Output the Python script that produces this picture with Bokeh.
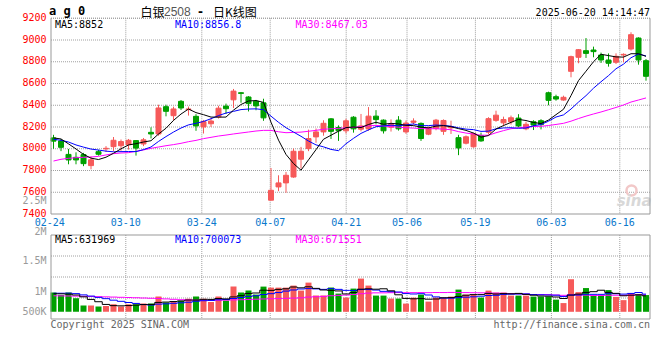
import numpy as np
from bokeh.plotting import figure
from bokeh.models import Range1d
from bokeh.core.properties import value
from bokeh.embed import file_html
from bokeh.resources import INLINE

# ------------------------------------------------------------------ data
dates = ["02-24", "02-25", "02-26", "02-27", "02-28",
         "03-03", "03-04", "03-05", "03-06", "03-07", "03-10", "03-11", "03-12", "03-13", "03-14",
         "03-17", "03-18", "03-19", "03-20", "03-21", "03-24", "03-25", "03-26", "03-27", "03-28",
         "03-31", "04-01", "04-02", "04-03", "04-07", "04-08", "04-09", "04-10", "04-11",
         "04-14", "04-15", "04-16", "04-17", "04-18", "04-21", "04-22", "04-23", "04-24", "04-25",
         "04-28", "04-29", "04-30", "05-06", "05-07", "05-08", "05-09",
         "05-12", "05-13", "05-14", "05-15", "05-16", "05-19", "05-20", "05-21", "05-22", "05-23",
         "05-26", "05-27", "05-28", "05-29", "05-30", "06-03", "06-04", "06-05", "06-06",
         "06-09", "06-10", "06-11", "06-12", "06-13", "06-16", "06-17", "06-18", "06-19", "06-20"]

opens = [8100, 8072, 7948, 7921, 7946, 7845, 7973, 7999, 8019, 8028,
         8038, 8075, 8044, 8151, 8136, 8387, 8304, 8436, 8360, 8298,
         8200, 8230, 8293, 8392, 8450, 8515, 8476, 8437, 8422, 7527,
         7649, 7686, 7740, 7904, 8002, 8109, 8155, 8275, 8195, 8165,
         8290, 8180, 8182, 8300, 8263, 8198, 8263, 8155, 8243, 8233,
         8134, 8186, 8160, 8192, 8102, 8051, 8018, 8122, 8152, 8261,
         8238, 8248, 8282, 8183, 8248, 8258, 8515, 8479, 8448, 8712,
         8841, 8902, 8908, 8862, 8816, 8795, 8862, 8917, 9018, 8810]
highs = [8128, 8090, 7998, 7967, 7962, 7929, 7990, 8024, 8108, 8085,
         8090, 8080, 8099, 8197, 8405, 8405, 8387, 8448, 8388, 8318,
         8265, 8282, 8395, 8415, 8550, 8522, 8484, 8449, 8460, 7823,
         7756, 7787, 8002, 8017, 8176, 8186, 8262, 8282, 8215, 8276,
         8300, 8320, 8383, 8355, 8270, 8270, 8300, 8260, 8280, 8242,
         8205, 8274, 8270, 8258, 8128, 8122, 8148, 8148, 8290, 8350,
         8295, 8305, 8318, 8248, 8262, 8272, 8525, 8497, 8488, 8856,
         8917, 9018, 8939, 8884, 8877, 8877, 8877, 9071, 9025, 8825]
lows = [8000, 7978, 7857, 7857, 7840, 7811, 7937, 7970, 7979, 7982,
        7992, 7937, 8024, 8095, 8120, 8298, 8258, 8356, 8305, 8165,
        8140, 8200, 8278, 8320, 8374, 8423, 8343, 8354, 8257, 7525,
        7610, 7595, 7733, 7818, 7978, 8055, 8120, 8090, 8072, 8140,
        8148, 8160, 8165, 8225, 8140, 8158, 8167, 8137, 8222, 8072,
        8125, 8170, 8128, 8136, 7941, 8040, 8010, 8064, 8130, 8248,
        8210, 8222, 8195, 8170, 8172, 8178, 8400, 8442, 8442, 8657,
        8786, 8835, 8841, 8789, 8755, 8779, 8795, 8902, 8773, 8626]
closes = [8070, 8013, 7897, 7897, 7863, 7898, 7949, 8004, 8078, 8066,
          8078, 8006, 8082, 8136, 8375, 8344, 8366, 8375, 8366, 8210,
          8250, 8255, 8373, 8368, 8530, 8509, 8415, 8394, 8284, 7618,
          7686, 7756, 7977, 7977, 8094, 8155, 8234, 8160, 8165, 8257,
          8183, 8210, 8300, 8268, 8165, 8225, 8183, 8236, 8255, 8094,
          8192, 8263, 8260, 8203, 8008, 8110, 8140, 8072, 8277, 8309,
          8269, 8285, 8210, 8225, 8218, 8222, 8445, 8457, 8473, 8847,
          8911, 8877, 8893, 8816, 8786, 8850, 8868, 9049, 8816, 8666]
volumes = [760000, 661000, 760000, 535000, 246000, 246000, 206000, 226000, 297000, 206000,
           297000, 297000, 329000, 329000, 606000, 364000, 404000, 436000, 515000, 602000,
           515000, 388000, 602000, 444000, 998000, 760000, 840000, 681000, 998000, 958000,
           958000, 958000, 1038000, 840000, 1156000, 645000, 645000, 962000, 721000, 562000,
           919000, 1315000, 1038000, 642000, 642000, 523000, 523000, 325000, 562000, 681000,
           404000, 562000, 562000, 602000, 879000, 681000, 681000, 562000, 840000, 760000,
           760000, 642000, 642000, 642000, 602000, 602000, 602000, 483000, 345000, 1290000,
           780000, 940000, 630000, 630000, 860000, 590000, 462000, 745000, 700000, 663000]

# moving-average values before each window is filled
ma5_head = [8100, 8090, 8045, 7998]
ma10_head = [8087, 8078, 8062, 8035, 8015, 7997, 7988, 7978, 7972]
ma30_head = [7887, 7903, 7912, 7918, 7921, 7924, 7930, 7943, 7955, 7961,
             7964, 7976, 7989, 8004, 8016, 8028, 8038, 8050, 8065, 8077,
             8093, 8105, 8117, 8126, 8136, 8145, 8154, 8163, 8169]
vma5_head = [715000, 712000, 700000, 665000]
vma10_head = [735000, 735000, 738000, 720000, 670000, 622000, 570000, 520000, 460000]
vma30_head = [634000, 630000, 626000, 621000, 615000, 608000, 600000, 592000, 583000, 574000,
              565000, 556000, 546000, 536000, 526000, 510000, 495000, 480000, 470000, 462000,
              458000, 456000, 458000, 462000, 470000, 478000, 488000, 498000, 508000]

tick_dates = ["02-24", "03-10", "03-24", "04-07", "04-21", "05-06", "05-19", "06-03", "06-16"]
price_ticks = [9200, 9000, 8800, 8600, 8400, 8200, 8000, 7800, 7600, 7400]
vol_tick_labels = ["2.5M", "2M", "1.5M", "1M", "500K"]
price_ma_labels = ["MA5:8852", "MA10:8856.8", "MA30:8467.03"]
vol_ma_labels = ["MA5:631969", "MA10:700073", "MA30:671551"]
title_code = "a g 0"
title_name = "白银"
title_contract = "2508"
title_sep = "-"
title_kind = "日K线图"
timestamp = "2025-06-20 14:14:47"
copyright_text = "Copyright 2025 SINA.COM"
url_text = "http://finance.sina.com.cn"
watermark = "sina"

# ------------------------------------------------------------------ layout (page pixels)
PX, PY = 0, 0            # figure origin on the page
W, H = 656, 340
CX0, STEP = 53.0, 7.5    # first candle centre, px per trading day
GX0, GSTEP = 49.3, 7.6   # date grid lines
FL, FR = 50.5, 649.5     # panel left / right edges
P_BOT, P_PPX = 213.5, 0.10875   # y of the lowest price tick, px per price unit
P_TOP = 17.75
V_TOP, V_BOT = 234.5, 318.5     # volume panel
V_BASE, V_UNIT = 311.3, 39600   # volume zero line, volume per px
VOL_LABEL_Y = [200.3, 230.5, 260.0, 290.7, 310.5]
LEGEND_X = [54.5, 174.5, 295.0]
MA_COLORS = ["#000000", "#0000ff", "#ff00ff"]

RED, GREEN = "#f65a5a", "#00a000"
GRID, FRAME = "#a0a0a0", "#999999"
MONO = value("DejaVu Sans Mono")
CJK = value("Noto Sans CJK SC")


def moving_average(series, n, head):
    out = list(head)
    for i in range(n - 1, len(series)):
        out.append(sum(series[i - n + 1:i + 1]) / n)
    return out


idx = np.arange(len(closes))
colors = [RED if c >= o else GREEN for o, c in zip(opens, closes)]
body_top = [max(o, c) for o, c in zip(opens, closes)]
body_bot = [min(o, c) for o, c in zip(opens, closes)]
ma5 = moving_average(closes, 5, ma5_head)
ma10 = moving_average(closes, 10, ma10_head)
ma30 = moving_average(closes, 30, ma30_head)
vma5 = moving_average(volumes, 5, vma5_head)
vma10 = moving_average(volumes, 10, vma10_head)
vma30 = moving_average(volumes, 30, vma30_head)
tick_idx = [dates.index(d) for d in tick_dates]
grid_x = [GX0 + GSTEP * d for d in tick_idx]

p_lo = price_ticks[-1]
p = figure(width=W, height=H,
           x_range=Range1d((PX - CX0) / STEP, (PX + W - CX0) / STEP),
           y_range=Range1d(p_lo - (PY + H - P_BOT) / P_PPX, p_lo + (P_BOT - PY) / P_PPX),
           output_backend="svg", toolbar_location=None, tools="", title=None,
           x_axis_location=None, y_axis_location=None)
p.min_border_left = p.min_border_right = p.min_border_top = p.min_border_bottom = 0
p.outline_line_color = None
p.grid.visible = False
p.background_fill_color = "white"
p.border_fill_color = "white"
p.extra_x_ranges = {"sx": Range1d(PX, PX + W)}
p.extra_y_ranges = {"sy": Range1d(PY + H, PY),
                    "vol": Range1d(-(PY + H - V_BASE) * V_UNIT, (V_BASE - PY) * V_UNIT)}

S = dict(x_range_name="sx", y_range_name="sy")

# ---- grid lines
p.segment(x0=FL, x1=FR, y0=price_ticks[:-1], y1=price_ticks[:-1], x_range_name="sx",
          line_color=GRID, line_width=1, line_dash="1 1")
p.segment(x0=grid_x[1:], x1=grid_x[1:], y0=P_TOP, y1=P_BOT, line_color=GRID,
          line_width=1, line_dash="1 1", **S)
vq = [V_TOP + (V_BOT - V_TOP) * j / 4 for j in (1, 2, 3)]
p.segment(x0=FL, x1=FR, y0=vq, y1=vq, line_color=GRID, line_width=1, line_dash="1 1", **S)
p.segment(x0=grid_x[1:], x1=grid_x[1:], y0=V_TOP, y1=V_BOT, line_color=GRID,
          line_width=1, line_dash="1 1", **S)

# ---- watermark
p.scatter(x=[631], y=[190], marker="circle", size=10, fill_color=None,
          line_color="#f2c8c8", line_width=2.5, **S)
p.text(x=[651], y=[200], text=[watermark], text_font=value("DejaVu Sans"),
       text_font_size="15px", text_font_style="bold italic", text_color="#d8d8d8",
       text_align="right", text_baseline="middle", **S)

# ---- volume bars and averages
p.vbar(x=idx, width=6 / STEP, top=volumes, bottom=0, y_range_name="vol",
       fill_color=colors, line_color=None)
for series, col in zip([vma30, vma10, vma5], MA_COLORS[::-1]):
    p.step(x=idx, y=series, mode="center", y_range_name="vol", line_color=col, line_width=1)

# ---- candles
p.segment(x0=idx, x1=idx, y0=lows, y1=highs, line_color=colors, line_width=1)
p.vbar(x=idx, width=5 / STEP, top=body_top, bottom=body_bot,
       fill_color=colors, line_color=colors, line_width=1)

# ---- price moving averages
for series, col in zip([ma30, ma10, ma5], MA_COLORS[::-1]):
    p.line(x=idx, y=series, line_color=col, line_width=1)

# ---- frames
p.segment(x0=[FL, FR, FL, FR], x1=[FL, FR, FL, FR], y0=[P_TOP, P_TOP, V_TOP, V_TOP],
          y1=[P_BOT, P_BOT, V_BOT, V_BOT], line_color=FRAME, line_width=1, **S)
p.segment(x0=FL, x1=FR, y0=[P_BOT, V_TOP, V_BOT], y1=[P_BOT, V_TOP, V_BOT],
          line_color=FRAME, line_width=1, **S)
p.segment(x0=FL, x1=FR, y0=P_TOP, y1=P_TOP, line_color=GRID, line_width=1,
          line_dash="1 1", **S)

# ---- axis texts
p.text(x=46, y=price_ticks, text=[str(t) for t in price_ticks], x_range_name="sx",
       text_font=MONO, text_font_size="10px", text_color="#ff0000", text_align="right",
       text_baseline="middle", y_offset=-1.5)
p.text(x=[46] * len(vol_tick_labels), y=VOL_LABEL_Y, text=vol_tick_labels,
       text_font=MONO, text_font_size="10px", text_color="#9a9a9a", text_align="right",
       text_baseline="middle", **S)
p.text(x=grid_x, y=[221.7] * len(grid_x), text=tick_dates, text_font=MONO,
       text_font_size="10px", text_color="#0a78cc", text_align="center",
       text_baseline="middle", **S)

# ---- legends
p.text(x=LEGEND_X, y=[23.5] * 3, text=price_ma_labels, text_font=MONO, text_font_size="10px",
       text_color=MA_COLORS, text_align="left", text_baseline="middle", **S)
p.text(x=LEGEND_X, y=[238.5] * 3, text=vol_ma_labels, text_font=MONO, text_font_size="10px",
       text_color=MA_COLORS, text_align="left", text_baseline="middle", **S)

# ---- header
p.text(x=[48.5], y=[10.5], text=[title_code], text_font=MONO, text_font_size="12px",
       text_font_style="bold", text_color="#000000", text_align="left",
       text_baseline="middle", **S)
p.text(x=[140, 212.5], y=[10.5, 10.5], text=[title_name, title_kind], text_font=CJK,
       text_font_size="12px", text_color="#000000", text_align="left",
       text_baseline="middle", **S)
p.text(x=[163.5], y=[10.5], text=[title_contract], text_font=value("Liberation Sans"),
       text_font_size="12px", text_color="#555555", text_align="left",
       text_baseline="middle", **S)
p.text(x=[197.5], y=[10.5], text=[title_sep], text_font=value("DejaVu Sans"),
       text_font_size="12px", text_font_style="bold", text_color="#000000",
       text_align="left", text_baseline="middle", **S)
p.text(x=[649.5], y=[11.5], text=[timestamp], text_font=MONO, text_font_size="10px",
       text_color="#000000", text_align="right", text_baseline="middle", **S)

# ---- footer
p.text(x=[50], y=[323.5], text=[copyright_text], text_font=MONO, text_font_size="10px",
       text_color="#666666", text_align="left", text_baseline="middle", **S)
p.text(x=[649.5], y=[323.5], text=[url_text], text_font=MONO, text_font_size="10px",
       text_color="#666666", text_align="right", text_baseline="middle", **S)

open("out.html", "w").write(file_html(p, INLINE))
